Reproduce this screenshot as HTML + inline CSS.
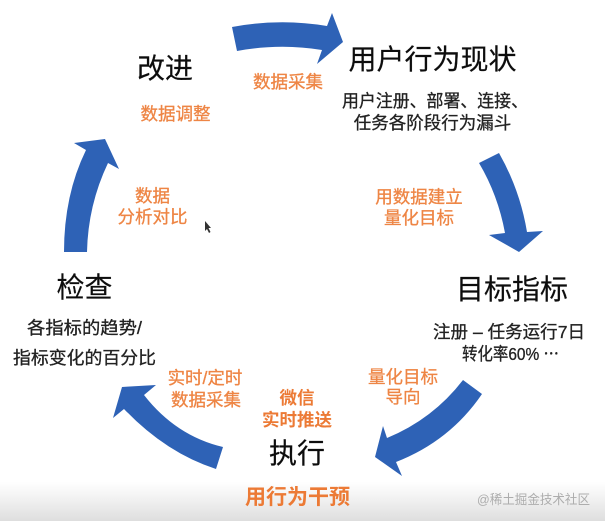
<!DOCTYPE html>
<html lang="zh">
<head>
<meta charset="utf-8">
<style>
html,body{margin:0;padding:0;background:#fff;width:605px;height:521px;overflow:hidden}
svg{display:block;position:absolute;left:0;top:0}
text{font-family:"Liberation Sans","Noto Sans CJK SC",sans-serif;text-anchor:middle}
.h{font-size:28px;fill:#111;stroke:#111;stroke-width:.2}
.b{font-size:17.500px;fill:#222;stroke:#222;stroke-width:.3}
.o{font-size:17.500px;fill:#ee8544;stroke:#ee8544;stroke-width:.3}
.ob{font-size:17.500px;fill:#ec7a35;font-weight:bold}
</style>
</head>
<body>
<svg width="605" height="521" viewBox="0 0 605 521" xmlns="http://www.w3.org/2000/svg">
<defs>
<linearGradient id="bg" x1="0" y1="0" x2="0" y2="1">
<stop offset="0" stop-color="#fff"/>
<stop offset="0.35" stop-color="#f4f4f4"/>
<stop offset="1" stop-color="#dedede"/>
</linearGradient>
<filter id="soft" x="0" y="0" width="100%" height="100%"><feGaussianBlur stdDeviation="0.35"/></filter>
</defs>
<rect width="605" height="521" fill="#fff"/>
<rect x="0" y="482" width="605" height="39" fill="url(#bg)"/>
<g filter="url(#soft)">
<g fill="#2e62b6">
<path d="M232 27 Q280 18 327 26 L332 13 L343 42 L317 64 L322 50 Q280 43 237 51 Z"/>
<path d="M479 163 L499 153 Q520 190 527 232 L543 231 L519 252 L489 235 L505 233 Q498 195 479 163 Z"/>
<path d="M463 380 L482 394 Q450 441 396 462 L402 476 L375 457 L383 426 L387 438 Q433 419 463 380 Z"/>
<path d="M223 447 L216 469 Q166 453 124 409 L113 418 L122 387 L156 385 L144 395 Q176 436 223 447 Z"/>
<path d="M64 252 L87 252 Q88 205 108 163 L119 169 L105 139 L74 143 L86 150 Q64 195 64 252 Z"/>
</g>
<path d="M205 221 L205 231 L207 229 L209 233 L210.500 232 L208.500 228 L211 228 Z" fill="#333"/>

<text class="h" x="165" y="78">改进</text>
<text class="h" x="432.500" y="69">用户行为现状</text>
<text class="h" x="512" y="299">目标指标</text>
<text class="h" x="297" y="463">执行</text>
<text class="h" x="84.500" y="297">检查</text>

<text class="b" x="435" y="107" textLength="186" lengthAdjust="spacingAndGlyphs">用户注册、部署、连接、</text>
<text class="b" x="432.500" y="129">任务各阶段行为漏斗</text>
<text class="b" x="509" y="338" textLength="152" lengthAdjust="spacingAndGlyphs">注册 – 任务运行7日</text>
<text class="b" x="510.500" y="360" textLength="97" lengthAdjust="spacingAndGlyphs">转化率60% ⋯</text>
<text class="b" x="84.500" y="334" textLength="115" lengthAdjust="spacingAndGlyphs">各指标的趋势/</text>
<text class="b" x="84.500" y="364" textLength="143" lengthAdjust="spacingAndGlyphs">指标变化的百分比</text>

<text class="o" x="288" y="88">数据采集</text>
<text class="o" x="175.500" y="120">数据调整</text>
<text class="o" x="152.500" y="202">数据</text>
<text class="o" x="152.500" y="223">分析对比</text>
<text class="o" x="419" y="203">用数据建立</text>
<text class="o" x="419" y="224">量化目标</text>
<text class="o" x="403" y="383">量化目标</text>
<text class="o" x="403" y="403">导向</text>
<text class="o" x="205" y="384">实时/定时</text>
<text class="o" x="206" y="406">数据采集</text>
<text class="ob" x="297" y="404">微信</text>
<text class="ob" x="297" y="426">实时推送</text>
<text class="ob" x="297.500" y="504" style="font-size:21px">用行为干预</text>
<text x="533.500" y="504" textLength="113" lengthAdjust="spacingAndGlyphs" style="font-size:13px;fill:#adadad">@稀土掘金技术社区</text>
</g>
</svg>
</body>
</html>
